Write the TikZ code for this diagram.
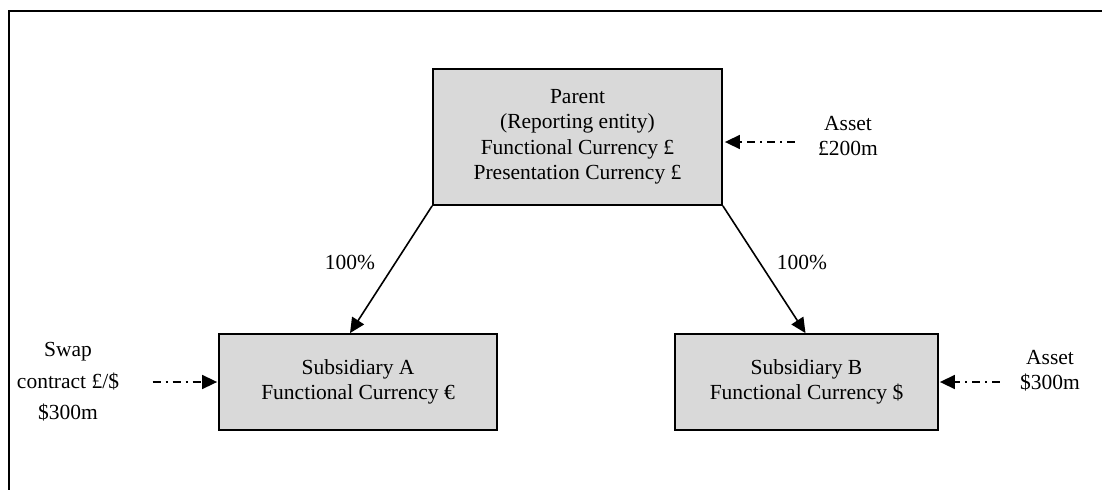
\documentclass[tikz,border=0pt]{standalone}
\usepackage{fontspec}
\setmainfont{Liberation Serif}
\usepackage{xcolor}
\usetikzlibrary{arrows.meta,positioning}
\definecolor{boxgray}{HTML}{D9D9D9}

\begin{document}
\begin{tikzpicture}[x=1pt,y=-1pt,
  entity/.style={draw,line width=1.8pt,fill=boxgray,align=center,
    font=\fontsize{21.5}{25.5}\selectfont},
  note/.style={align=center,font=\fontsize{21.5}{31.5}\selectfont},
  owns/.style={-{Triangle[length=15pt,width=14pt]},line width=1.6pt},
  feed/.style={-{Triangle[length=15pt,width=14pt]},line width=1.6pt,
    dash pattern=on 8pt off 5pt on 2pt off 5pt}
]
\useasboundingbox (0,0) rectangle (1102,490);
\draw[line width=1.8pt] (1102,11) -- (9,11) -- (9,490);
\node[entity,minimum width=289pt,minimum height=136pt] (parent) at (577.5,137)
  {Parent\\(Reporting entity)\\Functional Currency £\\Presentation Currency £};
\node[entity,minimum width=278pt,minimum height=96pt] (subA) at (358,382)
  {Subsidiary A\\Functional Currency €};
\node[entity,minimum width=263pt,minimum height=96pt] (subB) at (806.5,382)
  {Subsidiary B\\Functional Currency \$};
\node[note,font=\fontsize{21.5}{25}\selectfont] (asset1) at (848,136) {Asset\\£200m};
\node[note] (swap) at (68,382) {Swap\\contract £/\$\\\$300m};
\node[note,font=\fontsize{21.5}{25}\selectfont] (asset2) at (1050,371) {Asset\\\$300m};
\node[note] (pctA) at (350,262) {100\%};
\node[note] (pctB) at (802,262) {100\%};
\draw[owns] (parent.south west) -- ([xshift=-8pt]subA.north);
\draw[owns] (parent.south east) -- ([xshift=-1pt]subB.north);
\draw[feed,shorten <=20pt,shorten >=2pt] (asset1.west |- 0,142) -- (parent.east |- 0,142);
\draw[feed,shorten <=30pt,shorten >=1pt] (swap.east) -- (subA.west);
\draw[feed,shorten <=17pt,shorten >=1pt] (asset2.west |- 0,382) -- (subB.east);
\end{tikzpicture}
\end{document}
